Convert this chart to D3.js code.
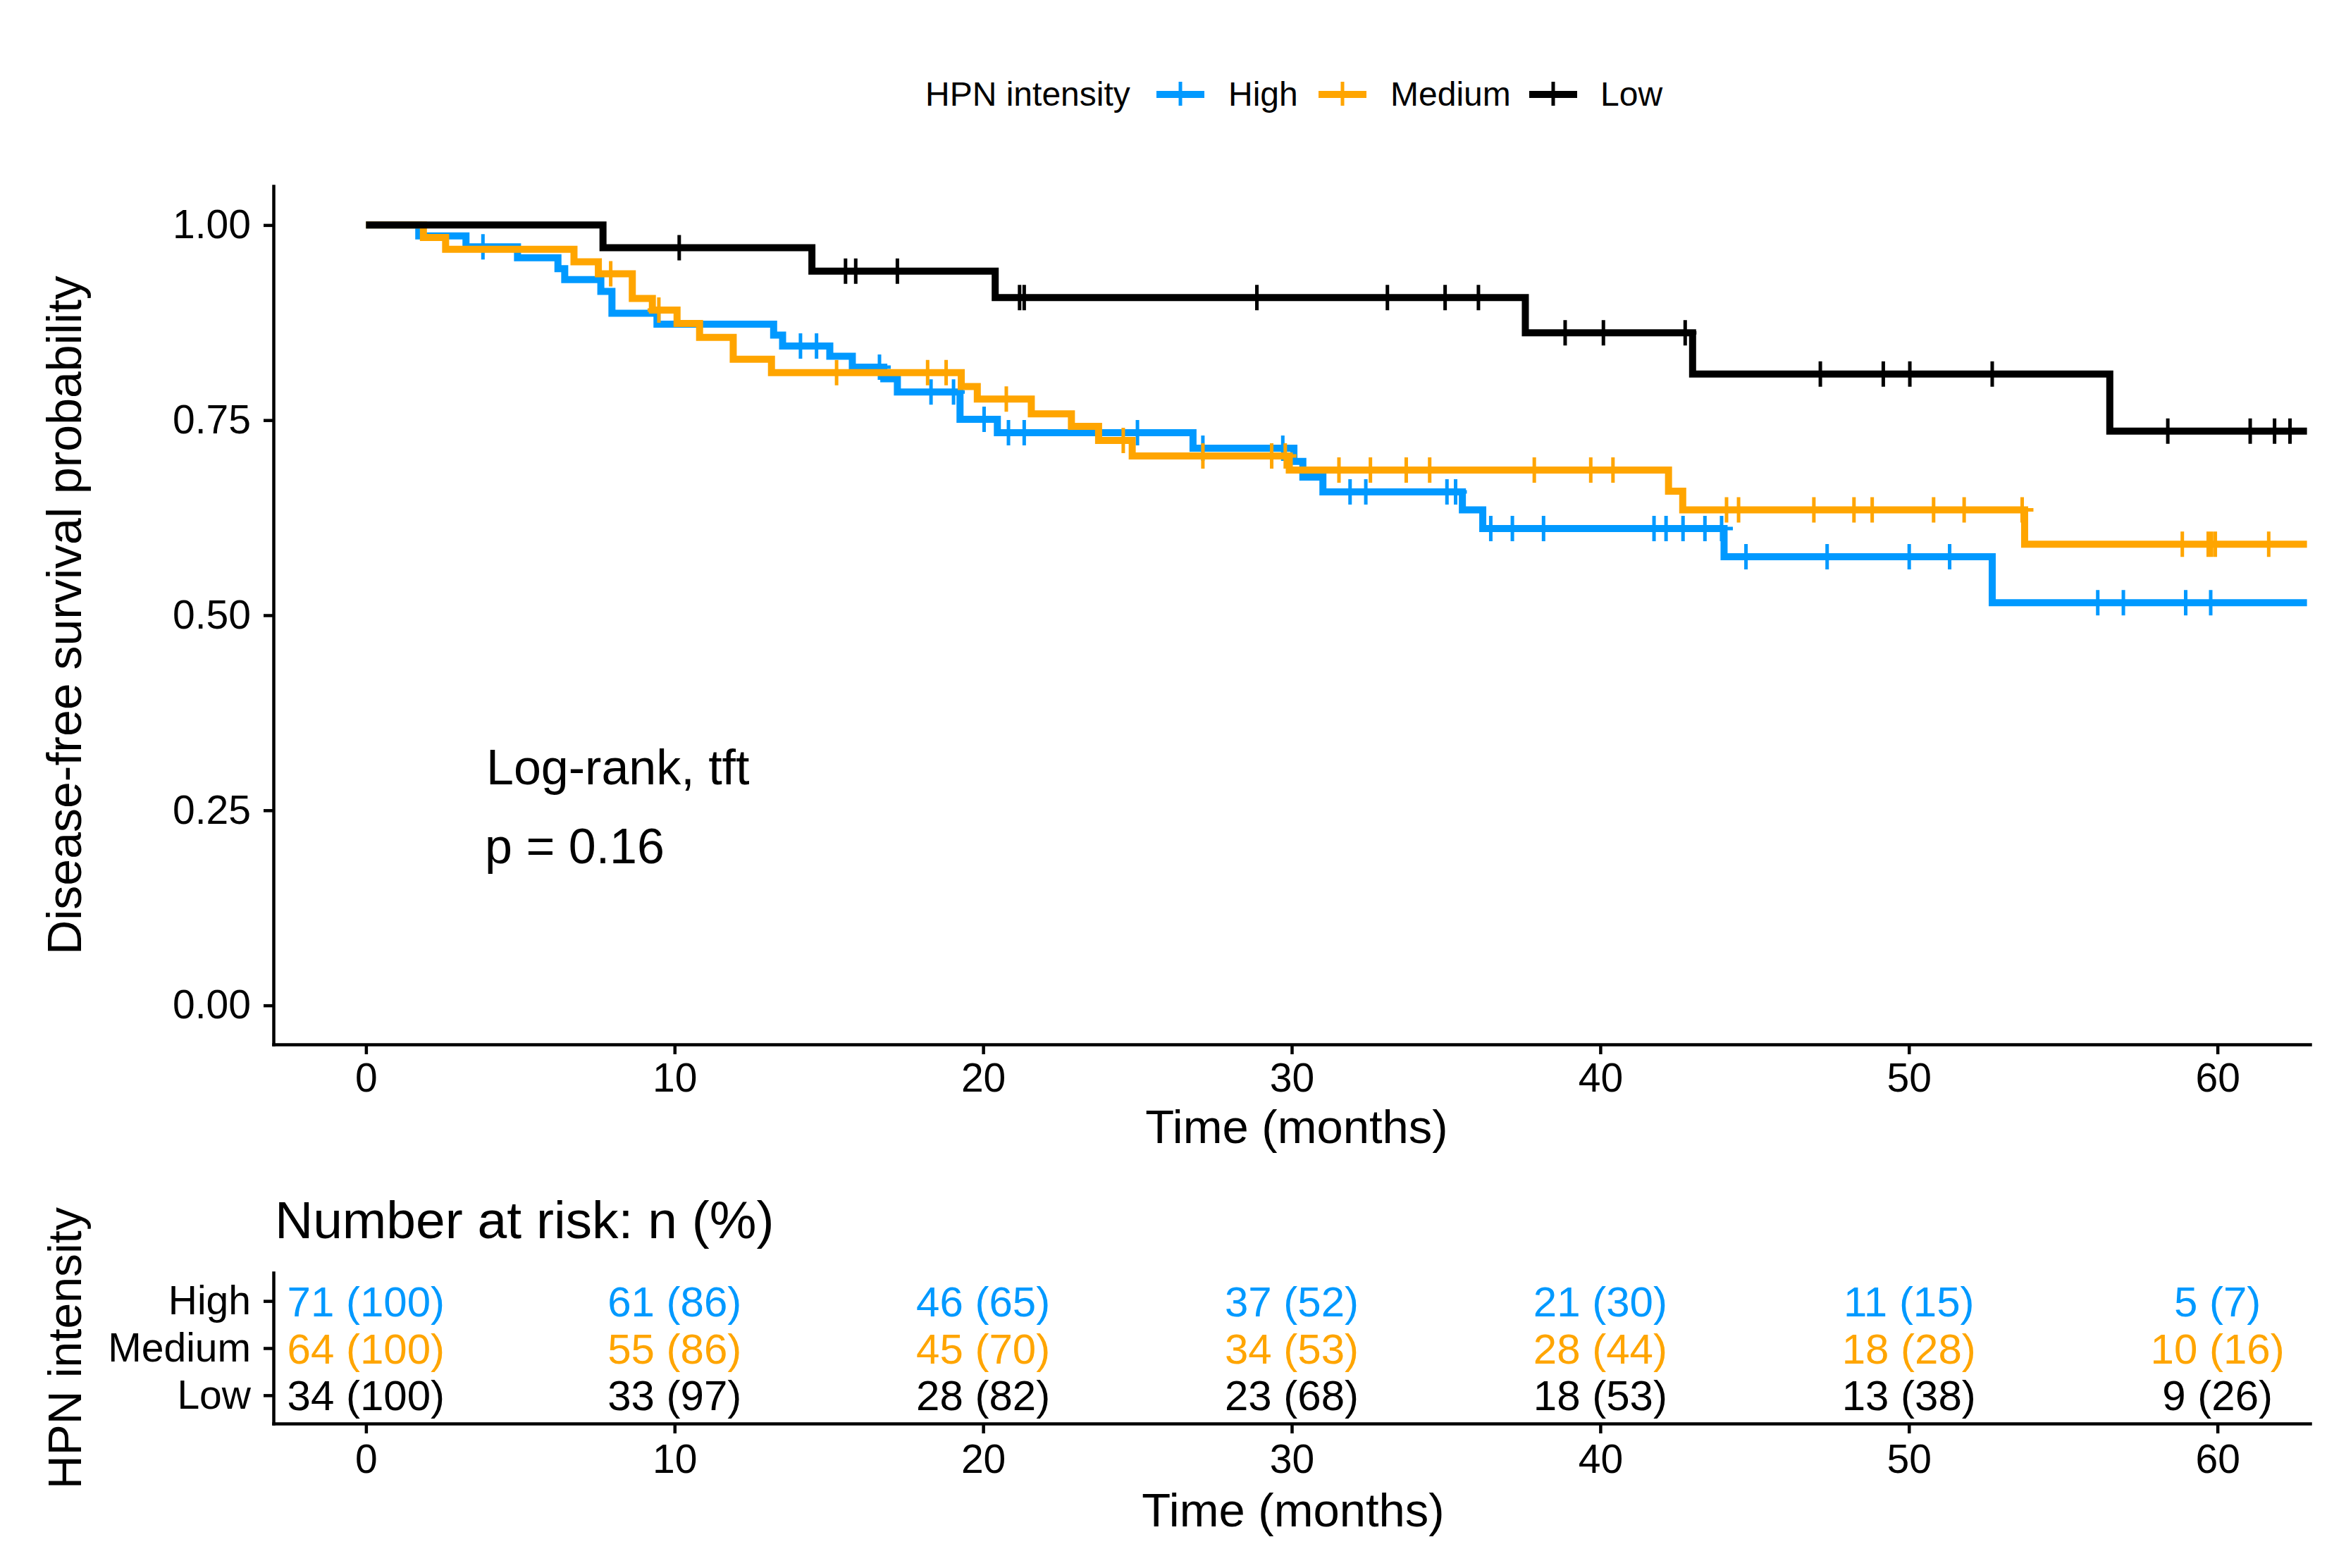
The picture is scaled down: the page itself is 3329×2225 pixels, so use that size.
<!DOCTYPE html>
<html>
<head>
    <style>
        body {
            margin: 0;
            background: #ffffff;
        }
        svg text {
            font-family: "Liberation Sans", Arial, Helvetica, sans-serif;
            fill: #000;
        }
    </style>
</head>
<body>
    <svg id="chart" width="3329" height="2225"></svg>
    <script src="https://cdnjs.cloudflare.com/ajax/libs/d3/7.8.5/d3.min.js"></script>
    <script>
        // groups, colours
        const groups = ["High", "Medium", "Low"];
        const groupColors = ["#0099ff", "#ffa500", "#000000"];

        // Kaplan-Meier steps: [time (months), survival after the drop]
        const stepsHigh = [
            [0, 1.000], [1.71, 0.986], [3.24, 0.972], [4.91, 0.958], [6.22, 0.944], [6.44, 0.930],
            [7.61, 0.915], [7.97, 0.887], [9.43, 0.873], [13.21, 0.859], [13.50, 0.845], [15.03, 0.832],
            [15.76, 0.818], [16.78, 0.803], [17.22, 0.786], [19.25, 0.751], [20.46, 0.734], [26.80, 0.714],
            [30.07, 0.697], [30.36, 0.677], [31.01, 0.658], [35.53, 0.635], [36.19, 0.611], [44.01, 0.575],
            [52.70, 0.516]
        ];
        const stepsMedium = [
            [0, 1.000], [1.86, 0.984], [2.58, 0.969], [6.74, 0.953], [7.53, 0.9375], [8.63, 0.906],
            [9.28, 0.891], [10.08, 0.874], [10.81, 0.856], [11.90, 0.828], [13.14, 0.811], [19.29, 0.793],
            [19.81, 0.777], [21.56, 0.758], [22.86, 0.742], [23.74, 0.724], [24.83, 0.704], [29.92, 0.686],
            [42.21, 0.659], [42.67, 0.635], [53.75, 0.591]
        ];
        const stepsLow = [
            [0, 1.000], [7.68, 0.971], [14.45, 0.941], [20.39, 0.907], [37.57, 0.862], [42.99, 0.809],
            [56.51, 0.736]
        ];

        // censoring times (months)
        const censorHigh = [3.79, 14.08, 14.60, 16.64, 18.31, 19.04, 20.03, 20.82, 21.33, 25.00, 27.12,
            29.71, 31.89, 32.40, 35.03, 35.31, 36.45, 37.15, 38.16, 41.74, 42.13, 42.68, 43.39, 43.93,
            44.72, 47.35, 50.01, 51.32, 56.12, 56.95, 58.97, 59.78];
        const censorMedium = [7.93, 9.49, 15.25, 18.20, 18.80, 20.75, 24.54, 27.12, 29.35, 29.79, 31.53,
            32.55, 33.71, 34.47, 37.86, 39.69, 40.41, 44.09, 44.48, 46.92, 48.22, 48.81, 50.80, 51.79,
            53.67, 58.86, 59.70, 59.81, 59.93, 61.66];
        const censorLow = [10.15, 15.54, 15.87, 17.22, 21.18, 21.33, 28.87, 33.10, 34.97, 36.05, 38.86,
            40.10, 42.75, 47.13, 49.17, 50.03, 52.70, 58.39, 61.06, 61.85, 62.35];

        const lastTime = 62.9;

        // number at risk table
        const riskTimes = [0, 10, 20, 30, 40, 50, 60];
        const riskHigh = [71, 61, 46, 37, 21, 11, 5];
        const riskHighPct = [100, 86, 65, 52, 30, 15, 7];
        const riskMedium = [64, 55, 45, 34, 28, 18, 10];
        const riskMediumPct = [100, 86, 70, 53, 44, 28, 16];
        const riskLow = [34, 33, 28, 23, 18, 13, 9];
        const riskLowPct = [100, 97, 82, 68, 53, 38, 26];

        const xTicks = [0, 10, 20, 30, 40, 50, 60];
        const yTicks = [0, 0.25, 0.5, 0.75, 1];

        const series = [
            { name: "High", steps: stepsHigh, censor: censorHigh, n: riskHigh, pct: riskHighPct },
            { name: "Medium", steps: stepsMedium, censor: censorMedium, n: riskMedium, pct: riskMediumPct },
            { name: "Low", steps: stepsLow, censor: censorLow, n: riskLow, pct: riskLowPct }
        ];
        const color = d3.scaleOrdinal().domain(groups).range(groupColors);

        const svg = d3.select("#chart");
        svg.append("rect").attr("width", 3329).attr("height", 2225).attr("fill", "#fff");

        const tickFont = 57;
        const axisWidth = 4.5;

        // main panel scales
        const x = d3.scaleLinear().domain([-3, 63]).range([388, 3278]);
        const y = d3.scaleLinear().domain([-0.05, 1.05]).range([1482, 264]);

        function styleAxis(g) {
            g.select(".domain").attr("stroke", "#000").attr("stroke-width", axisWidth)
                .attr("stroke-linecap", "square");
            g.selectAll(".tick line").attr("stroke", "#000").attr("stroke-width", axisWidth);
            g.selectAll(".tick text").attr("font-size", tickFont)
                .attr("font-family", "'Liberation Sans', Arial, Helvetica, sans-serif").attr("fill", "#000");
            g.attr("font-size", null).attr("font-family", null);
        }

        svg.append("g")
            .attr("transform", "translate(0,1482)")
            .call(d3.axisBottom(x).tickValues(xTicks).tickFormat(d3.format("d"))
                .tickSize(14).tickSizeOuter(0).tickPadding(13))
            .call(styleAxis);

        svg.append("g")
            .attr("transform", "translate(388,0)")
            .call(d3.axisLeft(y).tickValues(yTicks).tickFormat(d3.format(".2f"))
                .tickSize(14).tickSizeOuter(0).tickPadding(18))
            .call(styleAxis);

        // survival curves
        const survLine = d3.line()
            .x(d => x(d[0]))
            .y(d => y(d[1]))
            .curve(d3.curveStepAfter);

        const bisect = d3.bisector(d => d[0]).right;
        const survAt = (steps, t) => steps[Math.max(0, bisect(steps, t) - 1)][1];

        series.forEach(s => {
            const pts = s.steps.concat([[lastTime, s.steps[s.steps.length - 1][1]]]);
            svg.append("path")
                .datum(pts)
                .attr("fill", "none")
                .attr("stroke", color(s.name))
                .attr("stroke-width", 10)
                .attr("stroke-linejoin", "miter")
                .attr("d", survLine);

            svg.append("g").selectAll("path")
                .data(s.censor)
                .enter()
                .append("path")
                .attr("fill", "none")
                .attr("stroke", color(s.name))
                .attr("stroke-width", 5)
                .attr("d", t => {
                    const cx = x(t), cy = y(survAt(s.steps, t));
                    return `M${cx - 16},${cy}H${cx + 16}M${cx},${cy - 18}V${cy + 18}`;
                });
        });

        // log-rank annotation
        svg.append("text").attr("x", 690).attr("y", 1113).attr("font-size", 70).text("Log-rank, tft");
        svg.append("text").attr("x", 688).attr("y", 1225).attr("font-size", 70).text("p = 0.16");

        // axis titles
        svg.append("text")
            .attr("x", 1840).attr("y", 1622)
            .attr("text-anchor", "middle").attr("font-size", 67)
            .text("Time (months)");

        svg.append("text")
            .attr("transform", "translate(115,873) rotate(-90)")
            .attr("text-anchor", "middle").attr("font-size", 68)
            .text("Disease-free survival probability");

        // legend
        const legend = svg.append("g");
        legend.append("text").attr("x", 1313).attr("y", 150).attr("font-size", 48).text("HPN intensity");
        const legendKeys = [1641, 1871, 2170];
        const legendLabels = [1743, 1973, 2271];
        groups.forEach((gname, i) => {
            const x0 = legendKeys[i], cy = 134;
            legend.append("path")
                .attr("stroke", color(gname)).attr("stroke-width", 10).attr("fill", "none")
                .attr("d", `M${x0},${cy}H${x0 + 68}`);
            legend.append("path")
                .attr("stroke", color(gname)).attr("stroke-width", 5).attr("fill", "none")
                .attr("d", `M${x0 + 34},${cy - 18}V${cy + 16}`);
            legend.append("text").attr("x", legendLabels[i]).attr("y", 150)
                .attr("font-size", 48).text(gname);
        });

        // number at risk table
        svg.append("text").attr("x", 390).attr("y", 1757).attr("font-size", 75)
            .text("Number at risk: n (%)");

        const yRisk = d3.scalePoint().domain(["Low", "Medium", "High"]).range([2020, 1806]).padding(0.6);

        svg.append("g")
            .attr("transform", "translate(0,2020)")
            .call(d3.axisBottom(x).tickValues(xTicks).tickFormat(d3.format("d"))
                .tickSize(14).tickSizeOuter(0).tickPadding(16))
            .call(styleAxis);

        svg.append("g")
            .attr("transform", "translate(388,0)")
            .call(d3.axisLeft(yRisk).tickSize(14).tickSizeOuter(0).tickPadding(18))
            .call(styleAxis);

        series.forEach(s => {
            svg.append("g").selectAll("text")
                .data(riskTimes)
                .enter()
                .append("text")
                .attr("x", t => x(t))
                .attr("y", yRisk(s.name))
                .attr("dy", "0.36em")
                .attr("text-anchor", "middle")
                .attr("font-size", 60)
                .style("fill", color(s.name))
                .text((t, i) => `${s.n[i]} (${s.pct[i]})`);
        });

        svg.append("text")
            .attr("x", 1835).attr("y", 2166)
            .attr("text-anchor", "middle").attr("font-size", 67)
            .text("Time (months)");

        svg.append("text")
            .attr("transform", "translate(115,1913) rotate(-90)")
            .attr("text-anchor", "middle").attr("font-size", 66)
            .text("HPN intensity");
    </script>
</body>
</html>
